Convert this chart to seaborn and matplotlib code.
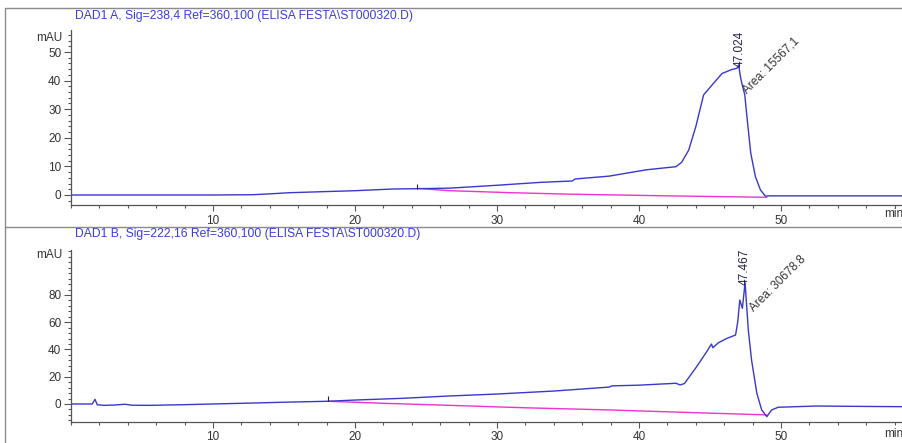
import numpy as np
import pandas as pd
import matplotlib
matplotlib.use("Agg")
import matplotlib.pyplot as plt
from matplotlib.lines import Line2D
from matplotlib.ticker import MultipleLocator, FixedLocator
import seaborn as sns

# ---- signal A (238 nm) ----
time_a = [0, 5, 10, 12.8, 14, 15.4, 18, 20, 22.7, 24.3, 26.7, 30, 33, 35.3, 35.5, 37.9, 40.5,
          42.6, 43.0, 43.5, 44.0, 44.55, 45.15, 45.85, 46.55, 46.9, 47.02, 47.12, 47.22,
          47.45, 47.6, 47.87, 48.2, 48.55, 48.9, 49.2, 52, 55, 59]
signal_a = [0.0, 0.0, 0.0, 0.1, 0.4, 0.8, 1.2, 1.5, 2.1, 2.2, 2.4, 3.4, 4.4, 4.9, 5.6, 6.6, 8.8,
            9.9, 11.4, 15.7, 23.9, 35.0, 38.5, 42.5, 43.9, 44.3, 45.5, 42.0, 39.5,
            35.0, 27.4, 14.6, 6.4, 1.8, -0.4, -0.3, -0.3, -0.3, -0.3]
baseline_time_a = [24.4, 26.7, 31, 35, 42, 49.0]
baseline_a = [2.3, 1.5, 0.8, 0.3, -0.3, -0.8]

# ---- signal B (222 nm) ----
time_b = [0, 1.5, 1.69, 1.85, 2.3, 3.0, 3.8, 4.3, 5.6, 8, 10, 12.8, 15, 18.1, 20, 23.2, 26.7,
          30, 34, 37.9, 38.1, 40, 42.6, 42.9, 43.2, 44.06, 44.77, 45.1, 45.2, 45.6, 46.2,
          46.8, 46.95, 47.1, 47.28, 47.47, 47.7, 47.93, 48.3, 48.64, 49.0, 49.34, 49.8,
          52.5, 56, 59]
signal_b = [0.0, 0.0, 3.4, -0.6, -1.0, -0.8, -0.2, -0.9, -1.0, -0.5, 0.0, 0.7, 1.3, 2.0, 2.9,
            4.1, 5.9, 7.3, 9.5, 12.4, 13.3, 13.8, 15.2, 14.0, 15.0, 27.4, 38.4, 44.0, 41.3,
            45.0, 48.2, 50.6, 60.0, 76.3, 70.2, 89.0, 54.0, 32.0, 7.8, -4.4, -9.3, -4.4,
            -2.4, -1.5, -1.8, -2.0]
baseline_time_b = [18.1, 22, 26.7, 32, 38, 44, 49.0]
baseline_b = [2.0, 0.5, -1.0, -2.8, -4.4, -6.4, -8.0]

# peak labels
rt_a, area_a = "47.024", "Area: 15567,1"
rt_b, area_b = "47.467", "Area: 30678.8"
title_a = "DAD1 A, Sig=238,4 Ref=360,100 (ELISA FESTA\\ST000320.D)"
title_b = "DAD1 B, Sig=222,16 Ref=360,100 (ELISA FESTA\\ST000320.D)"
x_major = [10, 20, 30, 40, 50]
y_major_a = [0, 10, 20, 30, 40, 50]
y_major_b = [0, 20, 40, 60, 80]

sns.set_style("white")
plt.rcParams["font.family"] = ["Liberation Sans", "DejaVu Sans"]

trace_col = "#3838cc"
base_col = "#f030d0"
title_col = "#3c3cdc"
axis_col = "#555555"
text_col = "#333333"

W, H = 903, 443
fig = plt.figure(figsize=(W / 100, H / 100), dpi=100)

def px_axes(left, top, right, bottom):
    return fig.add_axes([left / W, 1 - bottom / H, (right - left) / W, (bottom - top) / H])

ax_a = px_axes(71, 30, 71 + 59 * 14.2, 205)
ax_b = px_axes(71, 250, 71 + 59 * 14.2, 421.7)

df_a = pd.DataFrame({"t": time_a, "mAU": signal_a})
df_b = pd.DataFrame({"t": time_b, "mAU": signal_b})
bl_a = pd.DataFrame({"t": baseline_time_a, "mAU": baseline_a})
bl_b = pd.DataFrame({"t": baseline_time_b, "mAU": baseline_b})

for ax, df, bl in ((ax_a, df_a, bl_a), (ax_b, df_b, bl_b)):
    sns.lineplot(data=bl, x="t", y="mAU", ax=ax, color=base_col, lw=1.0, estimator=None, sort=False)
    sns.lineplot(data=df, x="t", y="mAU", ax=ax, color=trace_col, lw=1.0, estimator=None, sort=False)
    ax.set_xlabel("")
    ax.set_ylabel("")
    ax.xaxis.set_major_locator(FixedLocator(x_major))
    ax.xaxis.set_minor_locator(MultipleLocator(2))
    for s in ("top", "right"):
        ax.spines[s].set_visible(False)
    for s in ("left", "bottom"):
        ax.spines[s].set_color(axis_col)
        ax.spines[s].set_linewidth(0.9)
    ax.tick_params(axis="both", which="both", bottom=True, left=True, top=False, right=False)
    ax.tick_params(axis="both", which="major", direction="out", length=5, width=0.8,
                   color=axis_col, labelsize=8.5, labelcolor=text_col, pad=2)
    ax.tick_params(axis="both", which="minor", direction="out", length=2.5, width=0.8,
                   color=axis_col)
    ax.tick_params(axis="x", which="major", length=4, pad=3)
    ax.patch.set_alpha(0)

ax_a.yaxis.set_major_locator(FixedLocator(y_major_a))
ax_a.yaxis.set_minor_locator(MultipleLocator(2))
ax_b.yaxis.set_major_locator(FixedLocator(y_major_b))
ax_b.yaxis.set_minor_locator(MultipleLocator(4))
ax_a.set_ylim(-3.5, 57.7)
ax_b.set_ylim(-13, 113)
ax_a.set_xlim(0, 59)
ax_b.set_xlim(0, 59)

# integration start markers
ax_a.vlines(baseline_time_a[0], 2.2, 3.7, color="#222222", lw=0.8)
ax_b.vlines(baseline_time_b[0], 2.0, 5.9, color="#222222", lw=0.8)

# retention time labels and area annotations
ax_a.text(47.1, 44.6, rt_a, rotation=90, ha="left", va="center", fontsize=8.5,
          color="#222244", rotation_mode="anchor")
ax_a.text(47.45, 36.0, area_a, rotation=45, ha="left", va="center", fontsize=8.5,
          color=text_col, rotation_mode="anchor")
ax_b.text(47.47, 87.0, rt_b, rotation=90, ha="left", va="center", fontsize=8.5,
          color="#222244", rotation_mode="anchor")
ax_b.text(47.95, 69.0, area_b, rotation=45, ha="left", va="center", fontsize=8.5,
          color=text_col, rotation_mode="anchor")

# unit labels
for ax, ymid in ((ax_a, 38), (ax_b, 255)):
    fig.text(62 / W, 1 - ymid / H, "mAU", ha="right", va="center", fontsize=8.5, color=text_col)
fig.text(884 / W, 1 - 214 / H, "min", ha="left", va="center", fontsize=8.5, color=text_col)
fig.text(884 / W, 1 - 434 / H, "min", ha="left", va="center", fontsize=8.5, color=text_col)

# channel titles
fig.text(75 / W, 1 - 16 / H, title_a, ha="left", va="center", fontsize=8.7, color=title_col)
fig.text(75 / W, 1 - 234 / H, title_b, ha="left", va="center", fontsize=8.7, color=title_col)

# report frame
frame_col = "#8a8a8a"
fig.add_artist(Line2D([5 / W, 5 / W], [0, 1 - 8 / H], color=frame_col, lw=1.0))
fig.add_artist(Line2D([5 / W, 1], [1 - 8 / H, 1 - 8 / H], color=frame_col, lw=1.0))
fig.add_artist(Line2D([5 / W, 1], [1 - 227 / H, 1 - 227 / H], color=frame_col, lw=1.0))

fig.savefig("out.png", dpi=100)
